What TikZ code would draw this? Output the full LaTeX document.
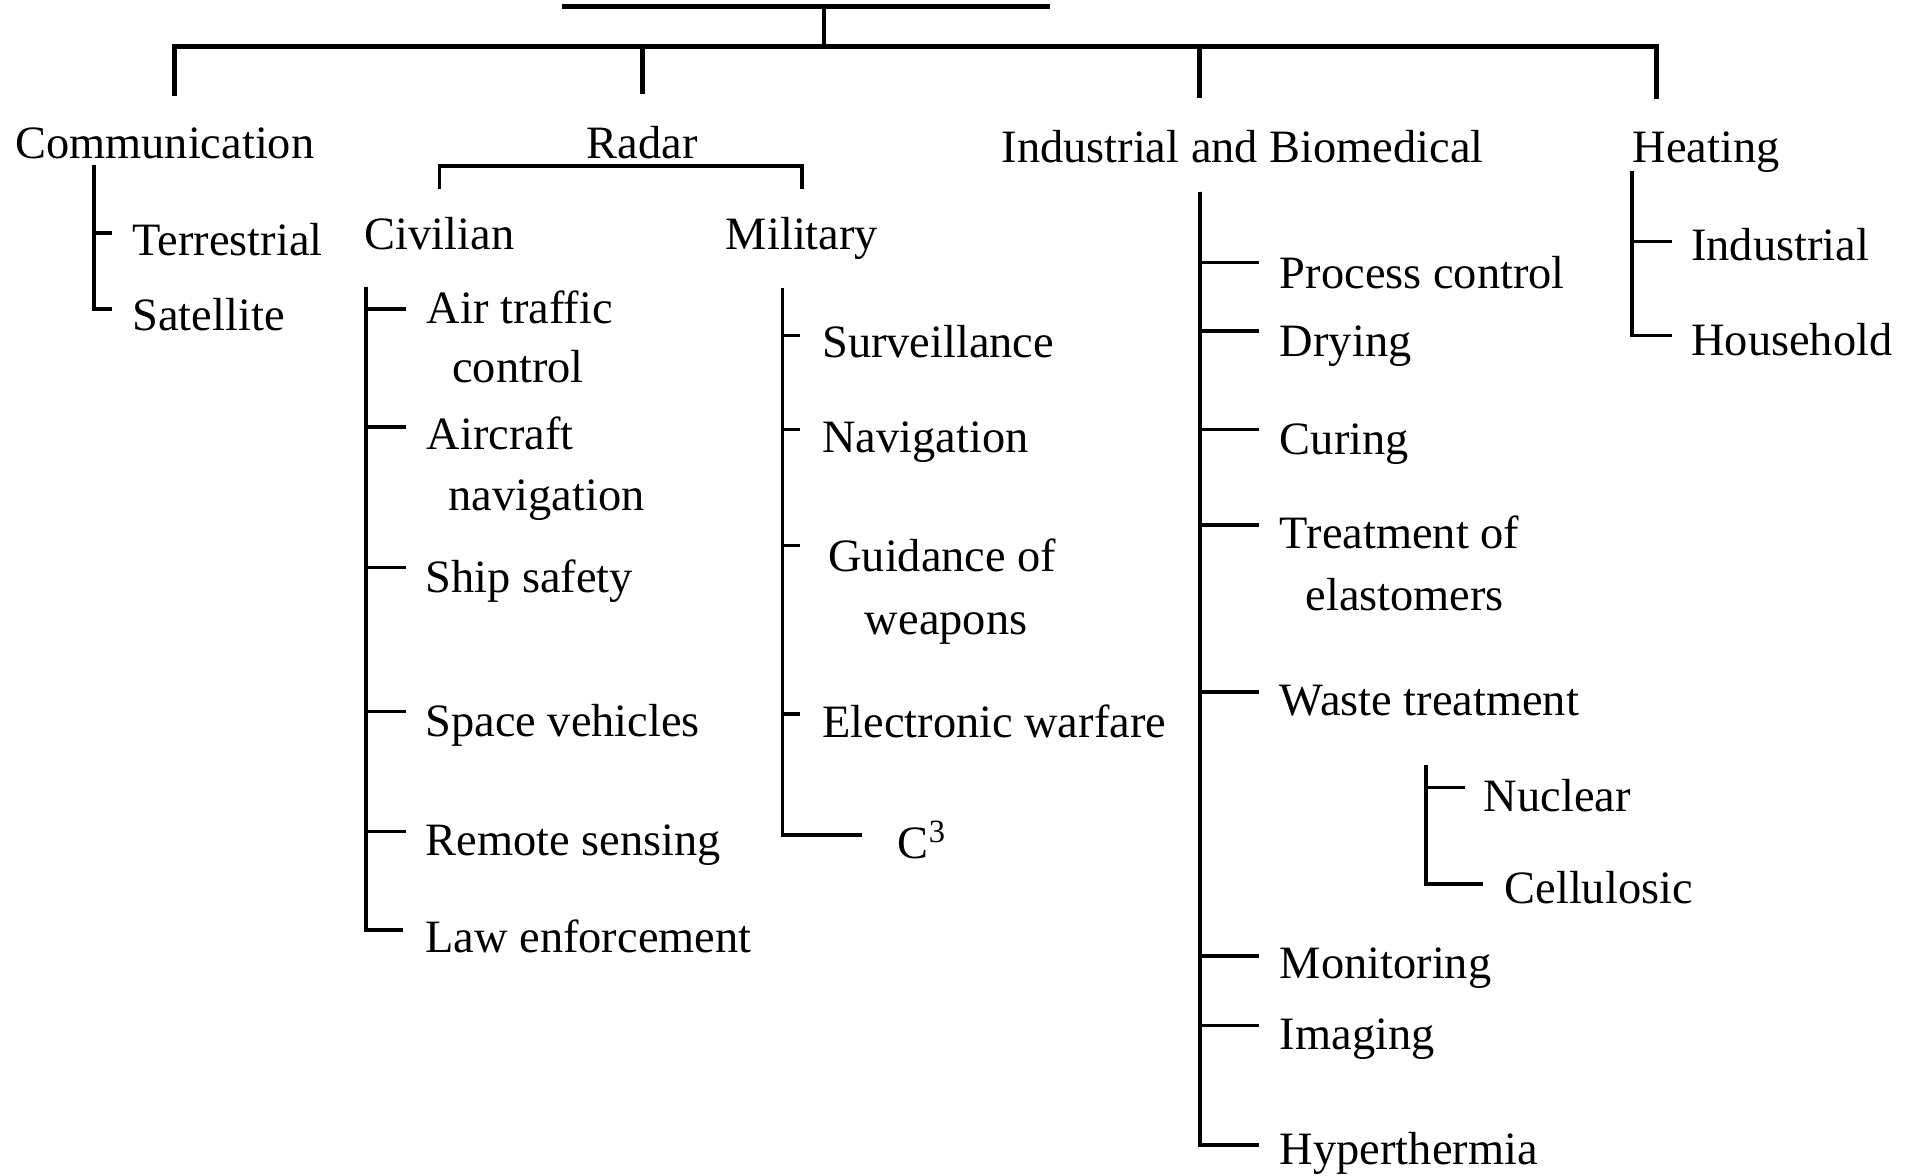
\documentclass[tikz,border=0pt]{standalone}
\usepackage{fontspec}
\setmainfont{Liberation Serif}
\begin{document}
\begin{tikzpicture}[x=0.012207cm,y=-0.012207cm,
    lbl/.style={anchor=base west,inner sep=0pt,font=\fontsize{13.2}{16}\selectfont},
    head/.style={lbl,anchor=base},
    tree/.style={line width=1pt,black},
    bus/.style={line width=1.4pt,black}]
      %\draw[step=100,gray,very thin] (0,0) grid (1568,963);
      \useasboundingbox (0,0) rectangle (1568,963);
      % top level
      \coordinate (root-l) at (460,5);
      \coordinate (root-r) at (860,5);
      \coordinate (root) at (675,5);
      \coordinate (bus) at (675,38);
      \draw[bus] (root-l) -- (root-r);
      \draw[bus] (root) -- (bus);
      \node[lbl] (comm) at (12,130) {Communication};
      \node[head] (radar) at (526,130) {Radar};
      \node[lbl] (ind) at (820,133) {Industrial and Biomedical};
      \node[lbl] (heat) at (1337,133) {Heating};
      \coordinate (comm-d) at ([shift={(8,-26)}]comm.north);
      \coordinate (radar-d) at ([shift={(0,-26)}]radar.north);
      \coordinate (ind-d) at ([shift={(-35,-26)}]ind.north);
      \coordinate (heat-d) at ([shift={(-41,-26)}]heat.north);
      \draw[bus] (comm-d) |- (bus) -| (heat-d);
      \draw[bus] (radar-d) -- (radar-d |- bus);
      \draw[bus] (ind-d) -- (ind-d |- bus);
      % communication
      \coordinate (comm-t) at (77,135);
      \node[lbl] (terr) at (108,209) {Terrestrial};
      \node[lbl] (sat) at (108,271) {Satellite};
      \draw[tree] (comm-t) |- ([shift={(-16,-18)}]terr.base west);
      \draw[tree] (comm-t) |- ([shift={(-16,-18)}]sat.base west);
      % radar
      \node[head] (civ) at (360,204) {Civilian};
      \node[head] (mil) at (657,204) {Military};
      \draw[tree] ([shift={(0,-22)}]civ.north) -- ++(0,-19) -| ([shift={(0,-22)}]mil.north);
      \coordinate (civ-t) at (300,235);
      \node[lbl] (air) at (349,265) {Air traffic};
      \node[lbl] (air2) at (370,313) {control};
      \node[lbl] (acft) at (349,368) {Aircraft};
      \node[lbl] (acft2) at (367,418) {navigation};
      \node[lbl] (ship) at (348,485) {Ship safety};
      \node[lbl] (space) at (348,603) {Space vehicles};
      \node[lbl] (remote) at (348,701) {Remote sensing};
      \node[lbl] (law) at (348,780) {Law enforcement};
      \draw[tree] (civ-t) |- ([shift={(-16,-12)}]air.base west);
      \draw[tree] (civ-t) |- ([shift={(-16,-18)}]acft.base west);
      \draw[tree] (civ-t) |- ([shift={(-15,-20)}]ship.base west);
      \draw[tree] (civ-t) |- ([shift={(-15,-20)}]space.base west);
      \draw[tree] (civ-t) |- ([shift={(-15,-20)}]remote.base west);
      \draw[tree] (civ-t) |- ([shift={(-18,-18)}]law.base west);
      \coordinate (mil-t) at (641,236);
      \node[lbl] (surv) at (673,293) {Surveillance};
      \node[lbl] (nav) at (673,371) {Navigation};
      \node[lbl] (guid) at (678,468) {Guidance of};
      \node[lbl] (guid2) at (708,520) {weapons};
      \node[lbl] (ew) at (673,604) {Electronic warfare};
      \node[lbl] (cc) at (735,703) {C\textsuperscript{3}};
      \draw[tree] (mil-t) |- ([shift={(-18,-18)}]surv.base west);
      \draw[tree] (mil-t) |- ([shift={(-18,-19)}]nav.base west);
      \draw[tree] (mil-t) |- ([shift={(-23,-21)}]guid.base west);
      \draw[tree] (mil-t) |- ([shift={(-18,-19)}]ew.base west);
      \draw[tree] (mil-t) |- ([shift={(-29,-19)}]cc.base west);
      % industrial and biomedical
      \coordinate (ind-t) at (983,157);
      \node[lbl] (proc) at (1048,236) {Process control};
      \node[lbl] (dry) at (1048,292) {Drying};
      \node[lbl] (cur) at (1048,372) {Curing};
      \node[lbl] (treat) at (1048,449) {Treatment of};
      \node[lbl] (treat2) at (1069,500) {elastomers};
      \node[lbl] (waste) at (1048,586) {Waste treatment};
      \node[lbl] (mon) at (1048,802) {Monitoring};
      \node[lbl] (img) at (1048,860) {Imaging};
      \node[lbl] (hyp) at (1048,954) {Hyperthermia};
      \draw[tree] (ind-t) |- ([shift={(-17,-21)}]proc.base west);
      \draw[tree] (ind-t) |- ([shift={(-17,-21)}]dry.base west);
      \draw[tree] (ind-t) |- ([shift={(-17,-20)}]cur.base west);
      \draw[tree] (ind-t) |- ([shift={(-17,-19)}]treat.base west);
      \draw[tree] (ind-t) |- ([shift={(-17,-19)}]waste.base west);
      \draw[tree] (ind-t) |- ([shift={(-17,-19)}]mon.base west);
      \draw[tree] (ind-t) |- ([shift={(-17,-20)}]img.base west);
      \draw[tree] (ind-t) |- ([shift={(-17,-16)}]hyp.base west);
      \coordinate (waste-t) at (1168,627);
      \node[lbl] (nuc) at (1215,665) {Nuclear};
      \node[lbl] (cell) at (1232,740) {Cellulosic};
      \draw[tree] (waste-t) |- ([shift={(-15,-20)}]nuc.base west);
      \draw[tree] (waste-t) |- ([shift={(-17,-16)}]cell.base west);
      % heating
      \coordinate (heat-t) at (1337,140);
      \node[lbl] (hind) at (1385,213) {Industrial};
      \node[lbl] (hhouse) at (1385,291) {Household};
      \draw[tree] (heat-t) |- ([shift={(-15,-15)}]hind.base west);
      \draw[tree] (heat-t) |- ([shift={(-15,-16)}]hhouse.base west);
    \end{tikzpicture}
\end{document}
